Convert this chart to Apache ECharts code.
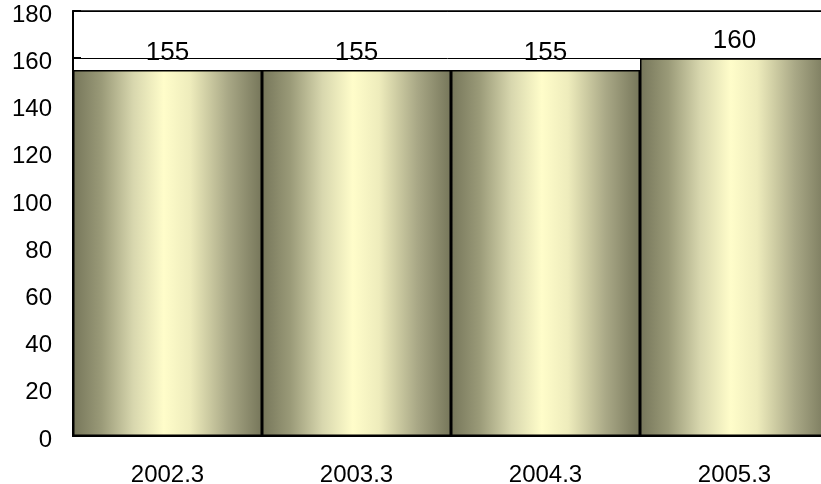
<!DOCTYPE html>
<html>
<head>
<meta charset="utf-8">
<style>
  html, body { margin: 0; padding: 0; background: #fff; }
  #chart { width: 821px; height: 484px; }
</style>
<script src="https://cdn.jsdelivr.net/npm/echarts@6/dist/echarts.min.js"></script>
</head>
<body>
<div id="chart"></div>
<script>
const categories = ['2002.3', '2003.3', '2004.3', '2005.3'];
const values = [155, 155, 155, 160];
const yTicks = [0, 20, 40, 60, 80, 100, 120, 140, 160, 180];

const FONT = '"Liberation Sans", Arial, sans-serif';

// Olive-to-cream cylinder shading across each bar
const barFill = {
  type: 'linear', x: 0, y: 0, x2: 1, y2: 0,
  colorStops: [
    { offset: 0, color: '#76765a' },
    { offset: 0.15, color: '#9a9a78' },
    { offset: 0.32, color: '#d8d7ae' },
    { offset: 0.48, color: '#fffdca' },
    { offset: 0.62, color: '#eeecbc' },
    { offset: 0.82, color: '#a9a886' },
    { offset: 1, color: '#76765a' }
  ]
};

const chart = echarts.init(document.getElementById('chart'), null, { renderer: 'canvas' });
chart.setOption({
  animation: false,
  grid: {
    left: 73, top: 11, width: 756, height: 425,
    outerBoundsMode: 'none',
    show: true, borderColor: '#000', borderWidth: 1.5, backgroundColor: 'transparent',
    containLabel: false
  },
  xAxis: {
    type: 'category',
    data: categories,
    axisLine: { show: true, lineStyle: { color: '#000', width: 2 } },
    axisTick: { show: false },
    axisLabel: { color: '#000', fontSize: 24, fontFamily: FONT, margin: 27 }
  },
  yAxis: {
    type: 'value',
    min: yTicks[0],
    max: yTicks[yTicks.length - 1],
    interval: yTicks[1] - yTicks[0],
    axisLine: { show: true, lineStyle: { color: '#000', width: 2 } },
    axisTick: { show: true, inside: true, length: 8, lineStyle: { color: '#000', width: 2 } },
    axisLabel: {
      color: '#000', fontSize: 24, fontFamily: FONT, margin: 21,
      verticalAlign: 'top', padding: [-8, 0, 0, 0]
    },
    splitLine: { show: true, lineStyle: { color: '#000', width: 1 } }
  },
  series: [{
    type: 'bar',
    data: values,
    barCategoryGap: '0%',
    itemStyle: { color: barFill, borderColor: '#000', borderWidth: 1.5 },
    label: {
      show: true, position: 'top', distance: 4,
      color: '#000', fontSize: 26, fontFamily: FONT
    }
  }]
});
</script>
</body>
</html>
